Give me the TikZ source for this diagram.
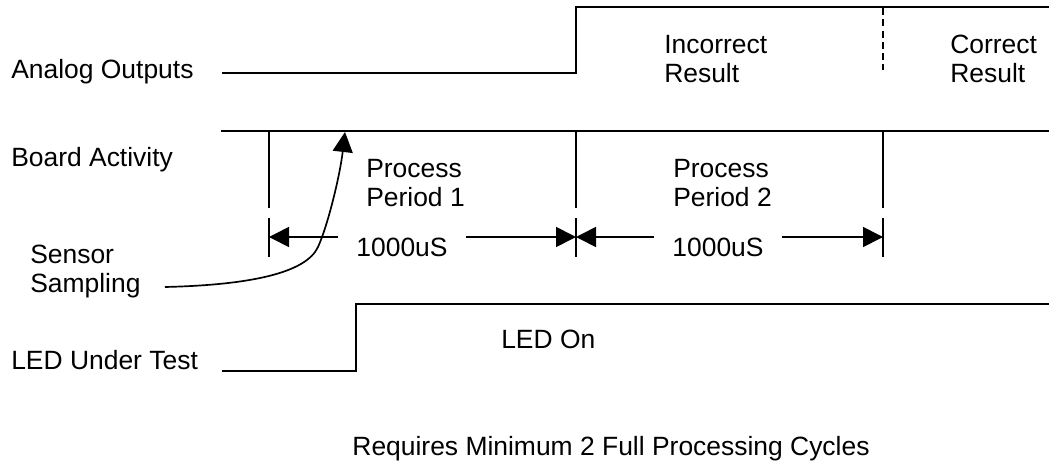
\documentclass[tikz,border=0pt]{standalone}
\usepackage{fontspec}
\setmainfont{Liberation Sans}
\usetikzlibrary{arrows.meta, positioning, calc}
\tikzset{
	% signal traces and period marks
	wave/.style    ={line width=1.3pt},
	tickmark/.style={line width=1.2pt},
	dimarrow/.style={line width=1.2pt},
	resultsep/.style={line width=1.1pt, dash pattern=on 5pt off 3pt},
	sampling/.style={line width=1.2pt, -{Triangle[length=5mm, width=5mm]}},
	% text
	lbl/.style     ={anchor=base west, inner sep=0pt, align=left, font=\fontsize{18.8pt}{20.6pt}\selectfont},
	dimlbl/.style  ={anchor=base, inner xsep=0.45cm, inner ysep=0pt, font=\fontsize{18.8pt}{20.6pt}\selectfont},
}
\begin{document}
\begin{tikzpicture}[x=0.025cm, y=-0.025cm]
	\useasboundingbox (0,0) rectangle (1049,461);
	% signal names (base = last line)
	\node[lbl] (analog) at (11,78) {Analog Outputs};
	\node[lbl] (board) at (11,166) {Board Activity};
	\node[lbl] (sensor) at (30,292) {Sensor\\Sampling};
	\node[lbl] (led) at (11,369) {LED Under Test};
	% analog outputs
	\draw[wave] (222,73) -| (576,7) -- (1049,7);
	\draw[resultsep] (883,8) -- (883,70);
	\node[lbl] (wrong) at (664,82) {Incorrect\\Result};
	\node[lbl] (right) at (950,82) {Correct\\Result};
	% board activity and the two periods
	\draw[wave] (221,131) -- (1049,131);
	\foreach \x in {269,576,883} {
		\draw[tickmark] (\x,131) -- (\x,208);
		\draw[tickmark] (\x,218) -- (\x,257);
	}
	\node[lbl] (per1) at (366,206) {Process\\Period 1};
	\node[lbl] (per2) at (673,206) {Process\\Period 2};
	\node[dimlbl] (dim1) at (402,256) {1000uS};
	\node[dimlbl] (dim2) at (718,256) {1000uS};
	\coordinate (t0) at (269,237);
	\coordinate (t1) at (576,237);
	\coordinate (t2) at (883,237);
	\draw[dimarrow, {Triangle[length=5mm, width=5mm]}-] (t0) -- (dim1.west |- t0);
	\draw[dimarrow, -{Triangle[length=5mm, width=5mm]}] (dim1.east |- t1) -- (t1);
	\draw[dimarrow, {Triangle[length=5mm, width=5mm]}-] (t1) -- (dim2.west |- t1);
	\draw[dimarrow, -{Triangle[length=5mm, width=5mm]}] (dim2.east |- t2) -- (t2);
	% sampling instant
	\coordinate (sample) at (345,132);
	\draw[sampling] ($(sensor.base east)+(24,-5)$) .. controls (250,285) and (306,273) .. (318,247)
		.. controls (328,225) and (340,175) .. (sample);
	% LED under test
	\draw[wave] (222,371) -| (356,304) -- (1049,304);
	\node[lbl] (ledon) at (501,348) {LED On};
	\node[dimlbl, inner xsep=0pt] (note) at (611,455) {Requires Minimum 2 Full Processing Cycles};
\end{tikzpicture}
\end{document}
